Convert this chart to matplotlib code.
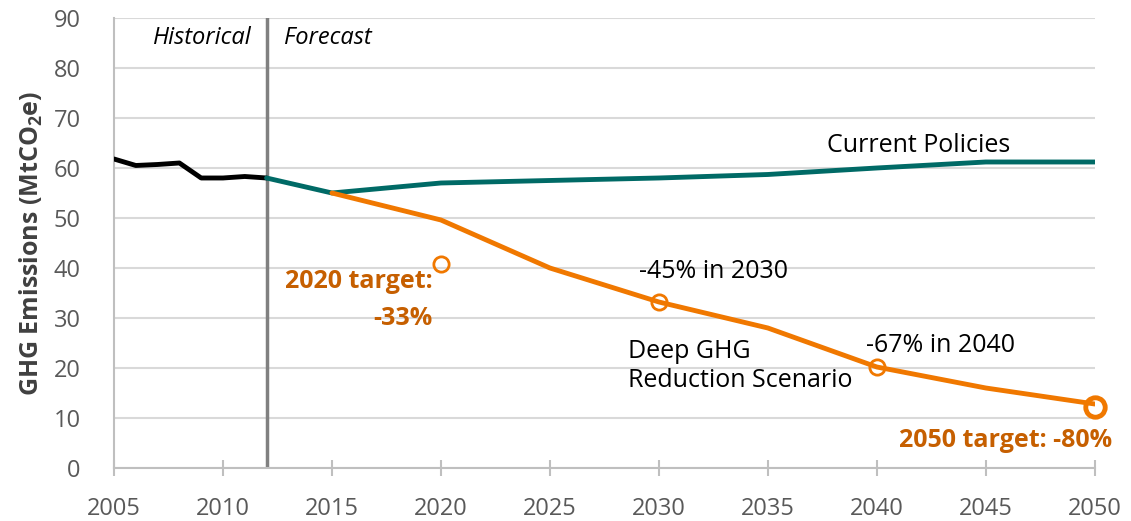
import matplotlib.pyplot as plt

plt.rcParams['font.family'] = ['Open Sans', 'DejaVu Sans']

hist_years = [2005, 2006, 2007, 2008, 2009, 2010, 2011, 2012]
hist_vals = [61.8, 60.5, 60.7, 61.0, 58.0, 58.0, 58.3, 58.0]

policy_years = [2012, 2015, 2020, 2025, 2030, 2035, 2040, 2045, 2050]
policy_vals = [58.0, 55.0, 57.0, 57.5, 58.0, 58.7, 60.0, 61.2, 61.2]

deep_years = [2015, 2020, 2025, 2030, 2035, 2040, 2045, 2050]
deep_vals = [55.0, 49.6, 40.0, 33.2, 28.0, 20.2, 16.0, 12.8]

target_years = [2020, 2030, 2040, 2050]
target_vals = [40.7, 33.2, 20.2, 12.2]

split_year = 2012

orange = '#f07800'
orange_text = '#c65f00'
teal = '#006a66'

fig = plt.figure(figsize=(11.31, 5.21), dpi=100)
ax = fig.add_axes([0.1008, 0.1017, 0.8672, 0.8638])

ax.plot(hist_years, hist_vals, color='black', lw=3.5, solid_capstyle='round', zorder=3)
ax.plot(policy_years, policy_vals, color=teal, lw=3.5, solid_capstyle='round', zorder=3)
ax.plot(deep_years, deep_vals, color=orange, lw=3.5, solid_capstyle='round', zorder=4)
for x, y in zip(target_years, target_vals):
    big = x == 2050
    ax.plot(x, y, 'o', ms=14 if big else 11, mfc='none', mec=orange,
            mew=3.5 if big else 2.0, zorder=5, clip_on=False)

ax.axvline(split_year, color='#808080', lw=2.5, zorder=2)

ax.set_xlim(2005, 2050)
ax.set_ylim(0, 90)
ax.set_xticks(range(2005, 2051, 5))
ax.set_yticks(range(0, 91, 10))
ax.grid(axis='y', color='#d9d9d9', lw=1.5)
ax.set_axisbelow(True)
for s in ['top', 'right']:
    ax.spines[s].set_visible(False)
for s in ['left', 'bottom']:
    ax.spines[s].set_color('#bfbfbf')
    ax.spines[s].set_linewidth(1.5)
ax.tick_params(axis='x', direction='inout', length=12, width=1.5, color='#bfbfbf',
               labelsize=17, labelcolor='#595959', pad=15)
ax.tick_params(axis='y', length=0, labelsize=17, labelcolor='#595959', pad=24)

ax.set_ylabel('GHG Emissions (MtCO$_\\mathregular{2}$e)', fontsize=18, fontweight='bold',
              color='#404040', labelpad=6)

ax.text(2011.3, 86, 'Historical', style='italic', fontsize=17, ha='right', va='center')
ax.text(2012.8, 86, 'Forecast', style='italic', fontsize=17, ha='left', va='center')
ax.text(2041.9, 64.4, 'Current Policies', fontsize=18, ha='center', va='center')
ax.text(2029.1, 39.2, '-45% in 2030', fontsize=18, ha='left', va='center')
ax.text(2028.6, 20.4, 'Deep GHG\nReduction Scenario', fontsize=18, ha='left', va='center',
        linespacing=1.25)
ax.text(2039.5, 24.6, '-67% in 2040', fontsize=18, ha='left', va='center')
ax.text(2019.6, 37.2, '2020 target:', fontsize=18, fontweight='bold', color=orange_text,
        ha='right', va='center')
ax.text(2019.6, 30.0, '-33%', fontsize=18, fontweight='bold', color=orange_text,
        ha='right', va='center')
ax.text(2050.8, 5.6, '2050 target: -80%', fontsize=18, fontweight='bold', color=orange_text,
        ha='right', va='center')

fig.savefig('out.png', dpi=100)
